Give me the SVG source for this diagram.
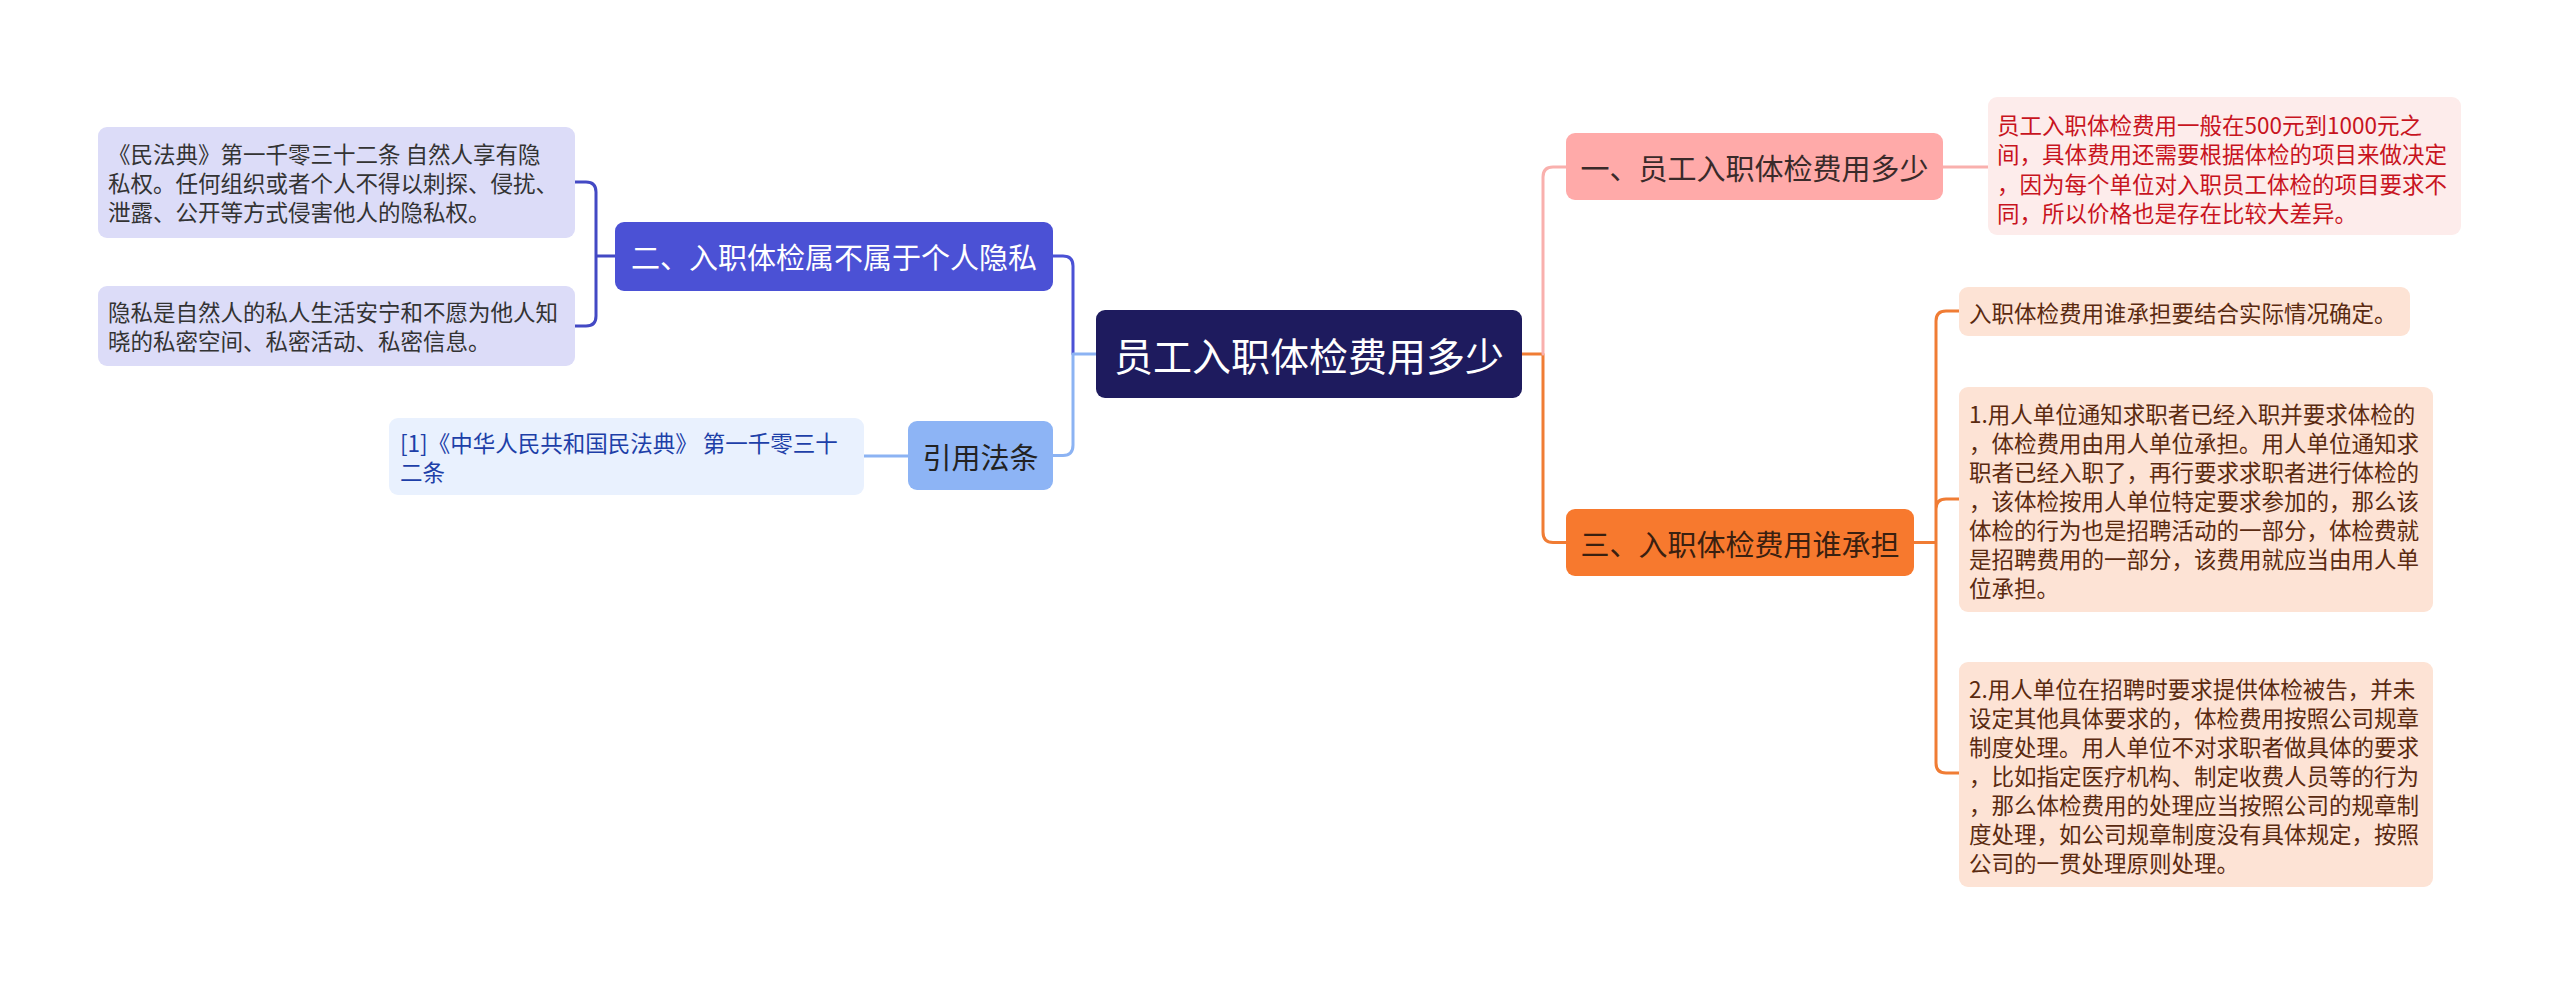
<svg xmlns="http://www.w3.org/2000/svg" width="2560" height="985" viewBox="0 0 2560 985">
<style>
text{font-family:"Noto Sans CJK SC","Noto Sans",sans-serif;dominant-baseline:central}
.t-main{font-size:39px;fill:#ffffff}
.t-br{font-size:29px}
.t-leaf{font-size:22.5px}
.line{fill:none;stroke-width:3;stroke-linecap:round;stroke-linejoin:round}
</style>
<rect width="2560" height="985" fill="#ffffff"/>
<g id="connectors">
  <path class="line" stroke="#4b51d5" d="M1053,256 H1063 Q1073,256 1073,266 V354"/>
  <path class="line" stroke="#8cb3f3" d="M1096,354 H1073 M1073,354 V445 Q1073,455.5 1063,455.5 H1053"/>
  <path class="line" stroke="#8cb3f3" d="M864,456 H908"/>
  <path class="line" stroke="#4349c4" d="M615,256 H596 M575,182 H586 Q596,182 596,192 V316 Q596,326 586,326 H575"/>
  <path class="line" stroke="#f07c34" d="M1522,354 H1543 M1543,354 V532 Q1543,542.5 1553,542.5 H1566"/>
  <path class="line" stroke="#f9b0ad" stroke-width="2.5" d="M1543,354 V177 Q1543,167 1553,167 H1566"/>
  <path class="line" stroke="#f9b0ad" stroke-width="2.5" d="M1943,167 H1988"/>
  <path class="line" stroke="#f07c34" d="M1914,542.5 H1936 M1959,311 H1946 Q1936,311 1936,321 V763 Q1936,773 1946,773 H1959 M1936,509 Q1936,499 1946,499 H1959"/>
</g>
<g id="main">
  <rect x="1096" y="310" width="426" height="88" rx="9" fill="#1e1b5e"/>
  <text class="t-main" x="1309" y="354" text-anchor="middle">员工入职体检费用多少</text>
</g>
<g id="branch2">
  <rect x="615" y="222" width="438" height="69" rx="9" fill="#4b51d5"/>
  <text class="t-br" x="834" y="256" text-anchor="middle" fill="#ffffff">二、入职体检属不属于个人隐私</text>
</g>
<g id="leaf2a">
  <rect x="98" y="127" width="477" height="111" rx="9" fill="#dcdcf8"/>
  <text class="t-leaf" fill="#333333"><tspan x="108" y="153">《民法典》第一千零三十二条 自然人享有隐</tspan><tspan x="108" y="182">私权。任何组织或者个人不得以刺探、侵扰、</tspan><tspan x="108" y="211">泄露、公开等方式侵害他人的隐私权。</tspan></text>
</g>
<g id="leaf2b">
  <rect x="98" y="286" width="477" height="80" rx="9" fill="#dcdcf8"/>
  <text class="t-leaf" fill="#333333"><tspan x="108" y="311">隐私是自然人的私人生活安宁和不愿为他人知</tspan><tspan x="108" y="340">晓的私密空间、私密活动、私密信息。</tspan></text>
</g>
<g id="cite">
  <rect x="908" y="421" width="145" height="69" rx="9" fill="#8db4f5"/>
  <text class="t-br" x="980.5" y="455.5" text-anchor="middle" fill="#222222">引用法条</text>
</g>
<g id="cite-leaf">
  <rect x="389" y="418" width="475" height="77" rx="9" fill="#e9f1fe"/>
  <text class="t-leaf" fill="#1d3fa8"><tspan x="400" y="442">[1]《中华人民共和国民法典》 第一千零三十</tspan><tspan x="400" y="471">二条</tspan></text>
</g>
<g id="branch1">
  <rect x="1566" y="133" width="377" height="67" rx="9" fill="#ffaaa9"/>
  <text class="t-br" x="1754.5" y="167" text-anchor="middle" fill="#3a2a2a">一、员工入职体检费用多少</text>
</g>
<g id="leaf1">
  <rect x="1988" y="97" width="473" height="138" rx="9" fill="#fdeceb"/>
  <text class="t-leaf" fill="#c8141e"><tspan x="1997" y="123.5">员工入职体检费用一般在500元到1000元之</tspan><tspan x="1997" y="153">间，具体费用还需要根据体检的项目来做决定</tspan><tspan x="1997" y="182.5">，因为每个单位对入职员工体检的项目要求不</tspan><tspan x="1997" y="212">同，所以价格也是存在比较大差异。</tspan></text>
</g>
<g id="branch3">
  <rect x="1566" y="509" width="348" height="67" rx="9" fill="#f7792e"/>
  <text class="t-br" x="1740" y="543" text-anchor="middle" fill="#3a2010">三、入职体检费用谁承担</text>
</g>
<g id="leaf3a">
  <rect x="1959" y="287" width="451" height="49" rx="9" fill="#fde3d5"/>
  <text class="t-leaf" x="1969" y="311.5" fill="#5a2a10">入职体检费用谁承担要结合实际情况确定。</text>
</g>
<g id="leaf3b">
  <rect x="1959" y="387" width="474" height="225" rx="9" fill="#fde3d5"/>
  <text class="t-leaf" fill="#5a2a10"><tspan x="1969" y="412.5">1.用人单位通知求职者已经入职并要求体检的</tspan><tspan x="1969" y="441.5">，体检费用由用人单位承担。用人单位通知求</tspan><tspan x="1969" y="470.5">职者已经入职了，再行要求求职者进行体检的</tspan><tspan x="1969" y="499.5">，该体检按用人单位特定要求参加的，那么该</tspan><tspan x="1969" y="528.5">体检的行为也是招聘活动的一部分，体检费就</tspan><tspan x="1969" y="557.5">是招聘费用的一部分，该费用就应当由用人单</tspan><tspan x="1969" y="586.5">位承担。</tspan></text>
</g>
<g id="leaf3c">
  <rect x="1959" y="662" width="474" height="225" rx="9" fill="#fde3d5"/>
  <text class="t-leaf" fill="#5a2a10"><tspan x="1969" y="687.5">2.用人单位在招聘时要求提供体检被告，并未</tspan><tspan x="1969" y="716.5">设定其他具体要求的，体检费用按照公司规章</tspan><tspan x="1969" y="745.5">制度处理。用人单位不对求职者做具体的要求</tspan><tspan x="1969" y="774.5">，比如指定医疗机构、制定收费人员等的行为</tspan><tspan x="1969" y="803.5">，那么体检费用的处理应当按照公司的规章制</tspan><tspan x="1969" y="832.5">度处理，如公司规章制度没有具体规定，按照</tspan><tspan x="1969" y="861.5">公司的一贯处理原则处理。</tspan></text>
</g>
</svg>
